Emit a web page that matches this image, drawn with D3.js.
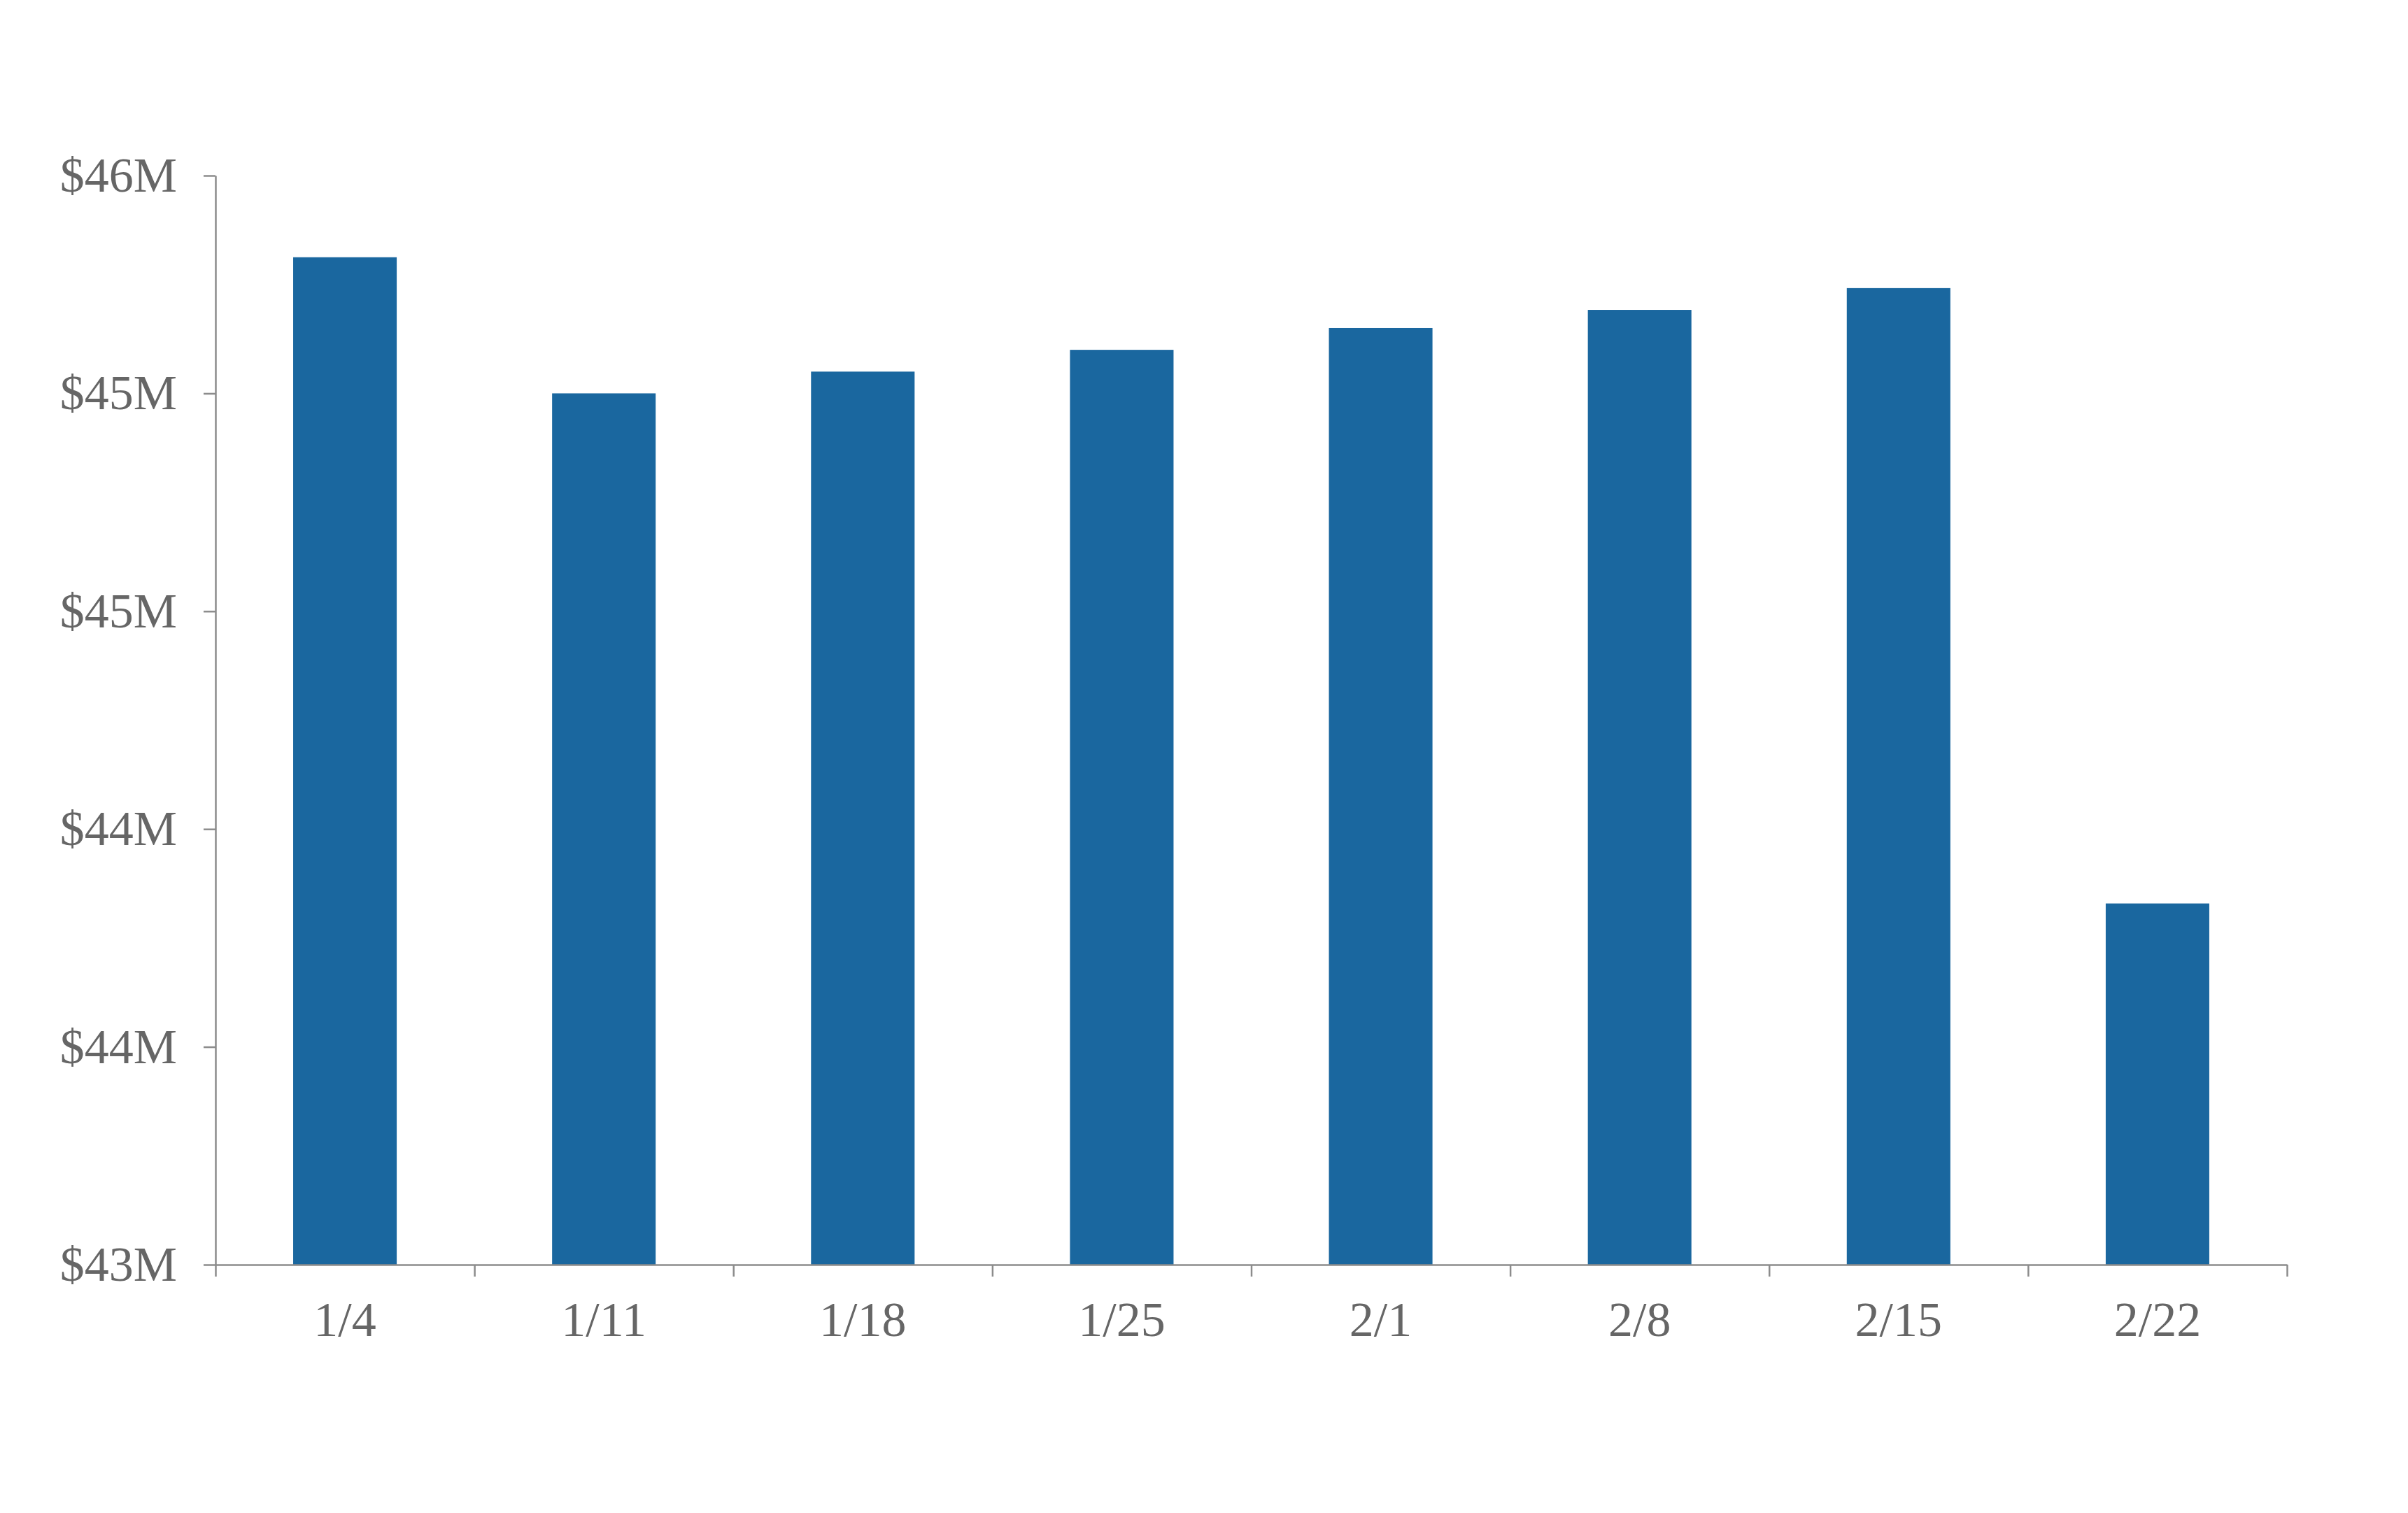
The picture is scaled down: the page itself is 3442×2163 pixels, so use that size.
<!DOCTYPE html>
<html>
<head>
<meta charset="utf-8">
<script src="https://cdn.jsdelivr.net/npm/d3@7"></script>
<style>
  html, body { margin: 0; padding: 0; background: #ffffff; }
  svg { display: block; }
</style>
</head>
<body>
<svg id="chart" width="3442" height="2163"></svg>
<script>
// ---- data ----
const categories = ["1/4", "1/11", "1/18", "1/25", "2/1", "2/8", "2/15", "2/22"];
const values = [45.775, 45.40, 45.46, 45.52, 45.58, 45.63, 45.69, 43.995]; // $ millions
const yTickValues = [43, 43.6, 44.2, 44.8, 45.4, 46];
const yDomain = [43, 46];

// ---- layout ----
const W = 3442, H = 2163;
const margin = { left: 308, right: W - 3269, top: 251, bottom: H - 1808 };
const fontFamily = "Georgia, 'Liberation Serif', 'DejaVu Serif', serif";
const textColor = "#666666";
const axisColor = "#8c8c8c";
const barColor = "#1a679f";

const svg = d3.select("#chart");

const x = d3.scaleBand()
  .domain(categories)
  .range([margin.left, W - margin.right])
  .paddingInner(0.6)
  .paddingOuter(0.3);

const y = d3.scaleLinear()
  .domain(yDomain)
  .range([H - margin.bottom, margin.top]);

// bars
svg.append("g")
  .selectAll("rect")
  .data(categories.map((c, i) => ({ c, v: values[i] })))
  .join("rect")
  .attr("x", d => x(d.c))
  .attr("width", x.bandwidth())
  .attr("y", d => y(d.v))
  .attr("height", d => y(yDomain[0]) - y(d.v))
  .attr("fill", barColor);

// y axis
const yAxis = svg.append("g")
  .attr("transform", `translate(${margin.left},0)`)
  .call(d3.axisLeft(y)
    .tickValues(yTickValues)
    .tickFormat(v => "$" + Math.round(v) + "M")
    .tickSize(17)
    .tickSizeOuter(0)
    .tickPadding(38));

// x axis boundary ticks
const xb = d3.scaleLinear()
  .domain([0, categories.length])
  .range([margin.left, W - margin.right]);

const xTicks = svg.append("g")
  .attr("transform", `translate(0,${H - margin.bottom})`)
  .call(d3.axisBottom(xb)
    .tickValues(d3.range(categories.length + 1))
    .tickFormat("")
    .tickSize(17)
    .tickSizeOuter(0));

// x axis labels
const xAxis = svg.append("g")
  .attr("transform", `translate(0,${H - margin.bottom})`)
  .call(d3.axisBottom(x)
    .tickSize(0)
    .tickPadding(52));
xAxis.select(".domain").remove();

[yAxis, xTicks, xAxis].forEach(g => {
  g.selectAll(".domain").attr("stroke", axisColor).attr("stroke-width", 2.5);
  g.selectAll(".tick line").attr("stroke", axisColor).attr("stroke-width", 2.5);
  g.selectAll(".tick text")
    .attr("fill", textColor)
    .attr("font-family", fontFamily)
    .attr("font-size", 70);
});
</script>
</body>
</html>
